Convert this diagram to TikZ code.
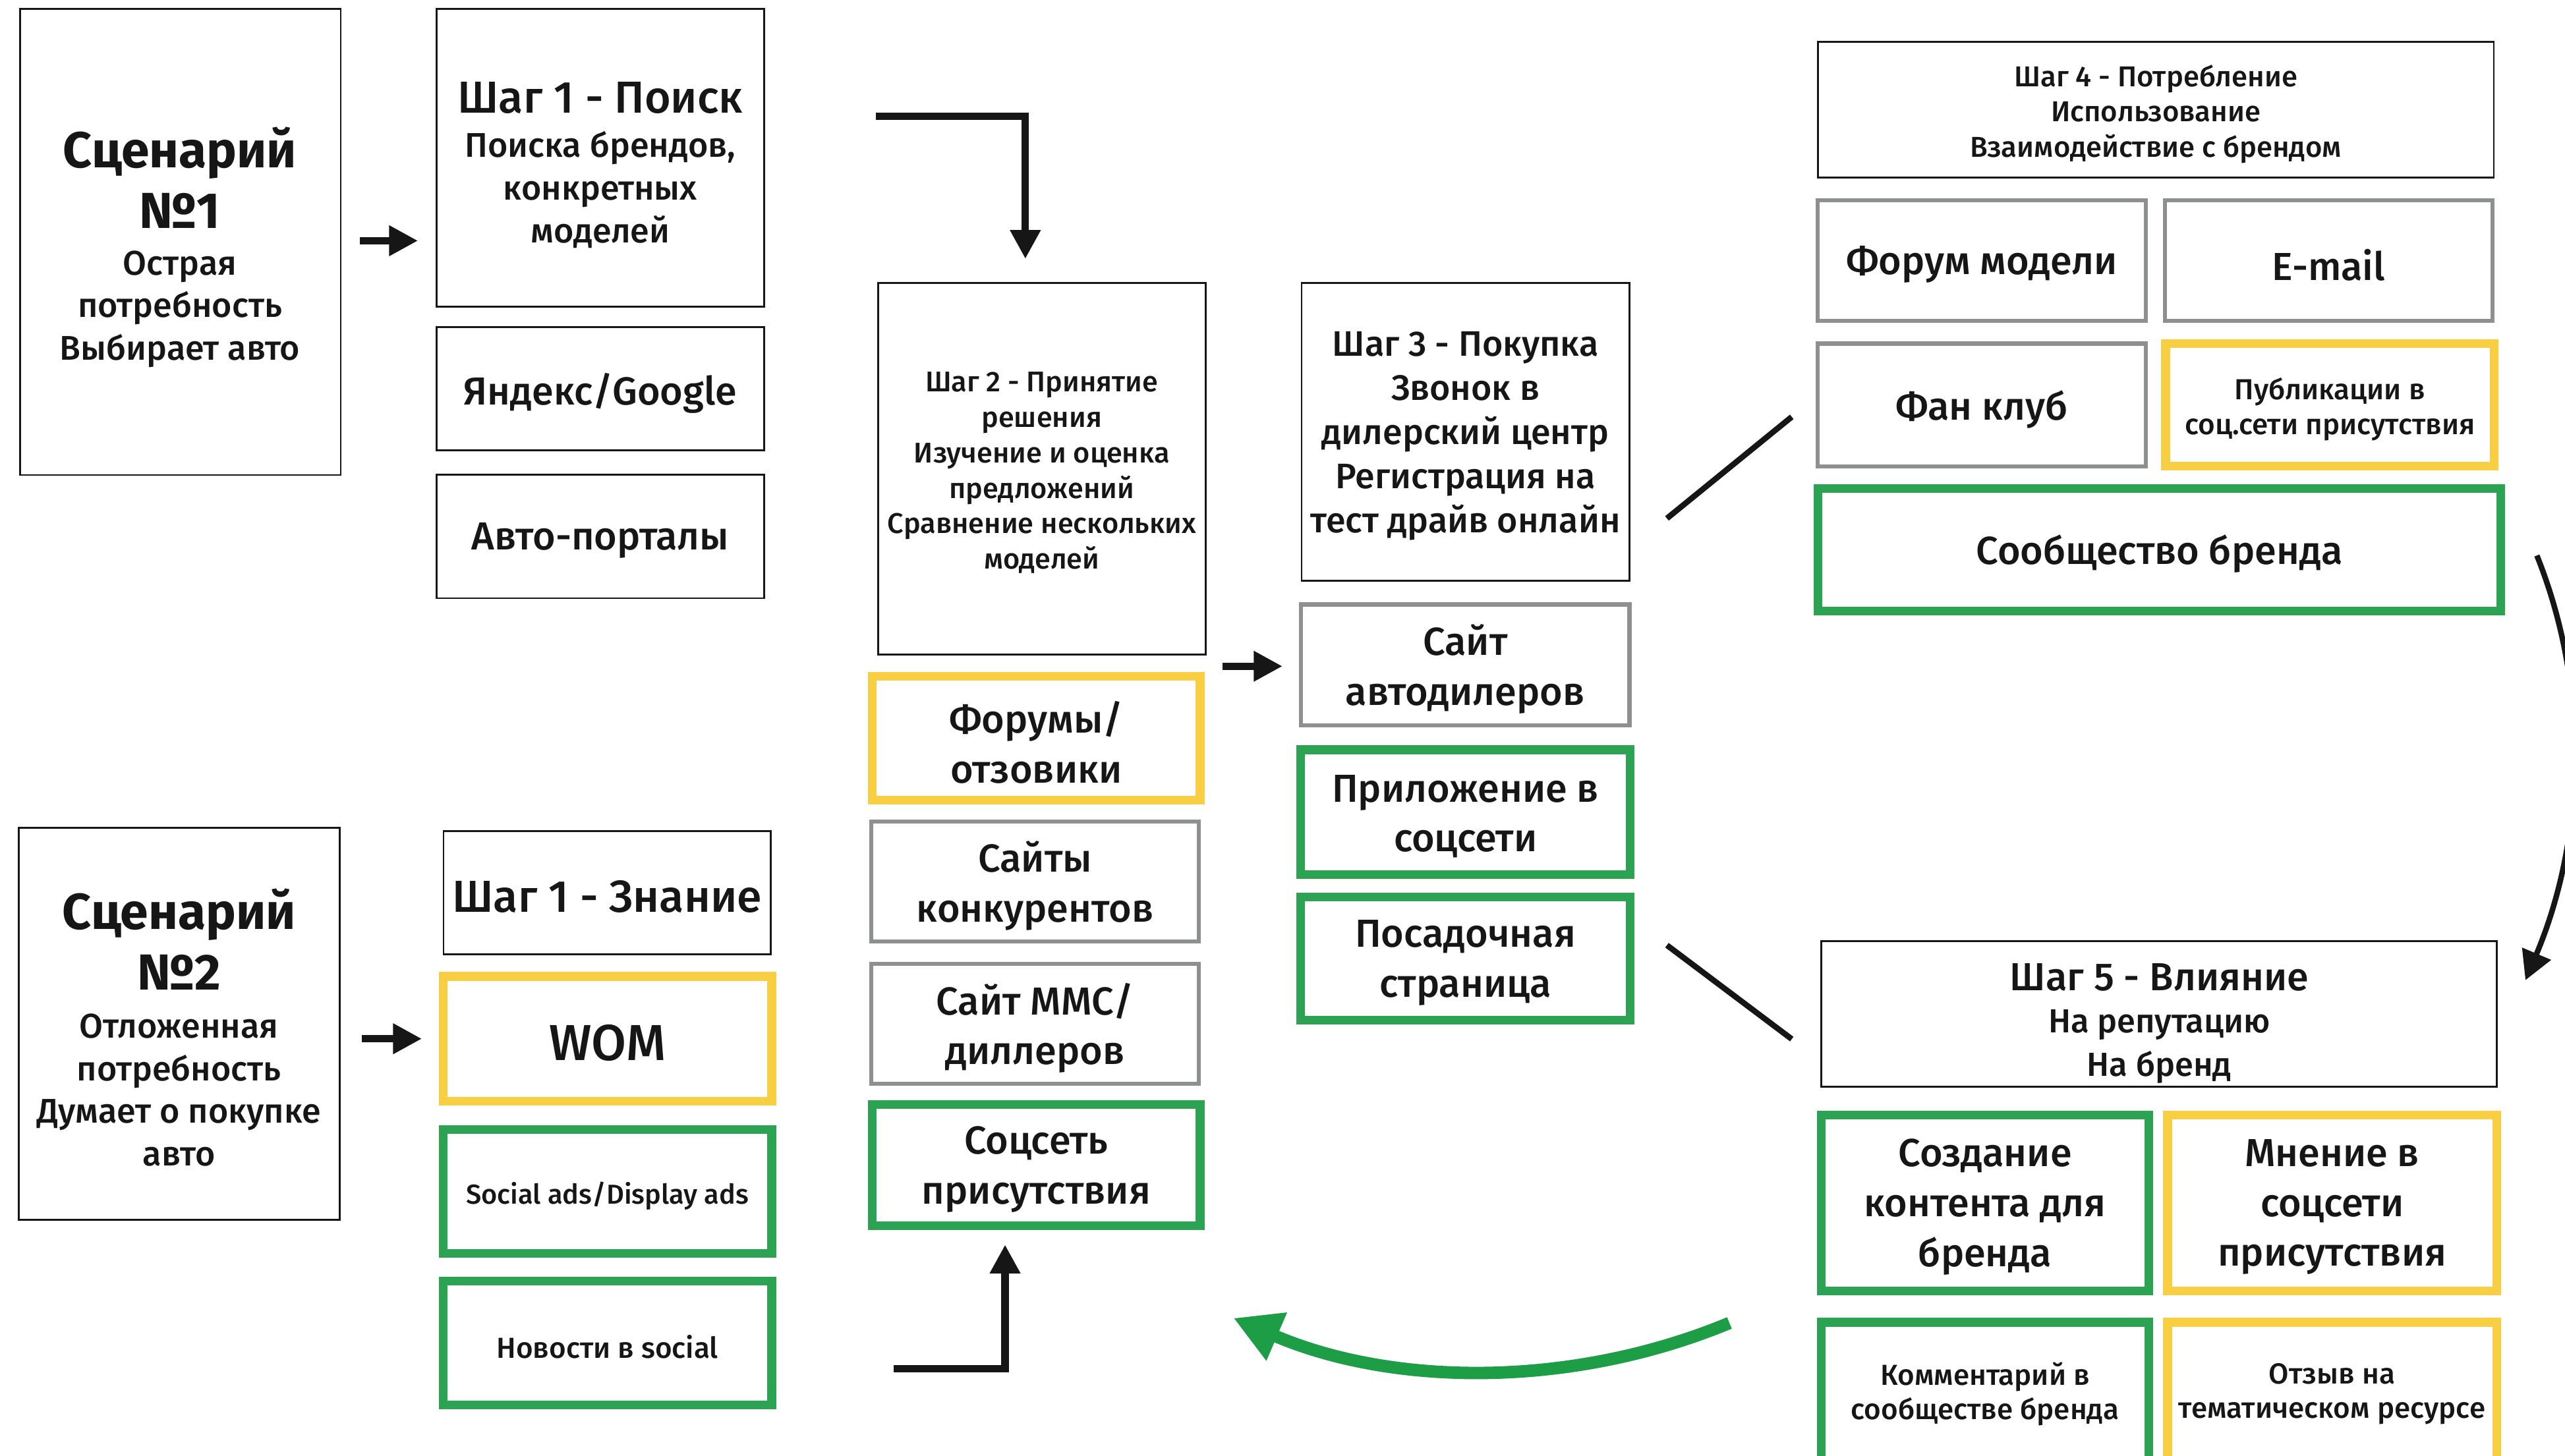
\documentclass[tikz,border=0pt]{standalone}
\usepackage{fontspec}
\setmainfont{Fira Sans}[UprightFont=* Medium, BoldFont=* Bold]
\usetikzlibrary{arrows.meta}
\definecolor{cyel}{RGB}{248,206,66}
\definecolor{cgrn}{RGB}{43,163,82}
\definecolor{agrn}{RGB}{29,157,69}
\definecolor{cgry}{RGB}{140,145,143}
\definecolor{ink}{RGB}{22,22,22}
\newcommand\mkframe[7]{\node[#2,minimum width={(#6-#4-2*#3)*0.025cm},minimum height={(#7-#5-2*#3)*0.025cm}] (#1) at ({(#4+#6)/2},{(#5+#7)/2}) {};}
\newcommand\mkbox[8]{\mkframe{#1}{#2}{#3}{#4}{#5}{#6}{#7}%
  \node[#2,draw=none,minimum width=0pt,minimum height=0pt] (#1t) at ([yshift=-0.065cm]#1.center) {#8};}
\tikzset{
  base/.style={inner sep=0pt, outer sep=0pt, align=center, text=ink},
  bthin/.style={base, draw=ink, line width=0.8pt},
  bgry/.style={base, draw=cgry, line width=1.8pt},
  byel/.style={base, draw=cyel, line width=3.75pt},
  bgrn/.style={base, draw=cgrn, line width=3.75pt},
  txt/.style={inner sep=0pt, align=center, text=ink},
  fTitle/.style={font=\bfseries\fontsize{22}{26.3}\selectfont},
  fBody/.style={font=\fontsize{14.9}{18.5}\selectfont},
  fStepT/.style={font=\fontsize{19.5}{22}\selectfont},
  fItem/.style={font=\fontsize{17}{21.7}\selectfont},
  fSmallTwo/.style={font=\fontsize{12.4}{15.4}\selectfont},
  fStepThree/.style={font=\fontsize{15.4}{19.2}\selectfont},
  fSmallFour/.style={font=\fontsize{12.5}{15.3}\selectfont},
  fSmall/.style={font=\fontsize{12.6}{15}\selectfont},
  fAds/.style={font=\fontsize{11.9}{15}\selectfont},
  fFiveT/.style={font=\fontsize{17}{20}\selectfont},
  fFiveB/.style={font=\fontsize{14.5}{18.7}\selectfont},
  fWom/.style={font=\fontsize{22}{24}\selectfont},
  arr/.style={draw=ink, line width=3.2pt, -{Triangle[length=0.44cm,width=0.44cm]}},
  diag/.style={draw=ink, line width=2.5pt},
  carr/.style={draw=ink, line width=2.4pt, -{Triangle[length=0.44cm,width=0.46cm]}},
  garr/.style={draw=agrn, line width=5.4pt, -{Triangle[length=0.72cm,width=0.75cm]}}
}
\begin{document}
\begin{tikzpicture}[x=0.025cm,y=-0.025cm]
\useasboundingbox (0,0) rectangle (1568,890);
\fill[white] (0,0) rectangle (1568,890);
\clip (0,0) rectangle (1568,890);
% Scenario 1
\mkframe{sc1}{bthin}{0.5}{11.7}{4.9}{208.8}{291}
\node[txt,fTitle] (sc1t) at (110,108.5) {Сценарий\\№1};
\node[txt,fBody] (sc1b) at (110,189) {Острая\\потребность\\Выбирает авто};
% Step 1 search
\mkframe{s1}{bthin}{0.5}{266.3}{4.9}{467.7}{188}
\node[txt,fStepT] (s1t) at (367,60) {Шаг 1 - Поиск};
\node[txt,fBody] (s1b) at (367,116) {Поиска брендов,\\конкретных\\моделей};
\mkbox{ya}{bthin,fItem}{0.5}{266.3}{199.5}{467.7}{275.9}{Яндекс/Google}
\mkbox{ap}{bthin,fItem}{0.5}{266.3}{289.9}{467.7}{366.3}{Авто-порталы}
% Step 2
\mkbox{s2}{bthin,fSmallTwo}{0.5}{536.2}{172.4}{737.5}{400.6}{Шаг 2 - Принятие\\решения\\Изучение и оценка\\предложений\\Сравнение нескольких\\моделей}
\mkbox{fo}{byel,fItem}{2.65}{530.6}{410.8}{736.3}{492.1}{Форумы/\\отзовики}
\mkbox{sk}{bgry,fItem}{1.25}{531.4}{501.2}{734.1}{577}{Сайты\\конкурентов}
\mkbox{mmc}{bgry,fItem}{1.25}{531.4}{588.1}{734.1}{663.9}{Сайт ММС/\\диллеров}
\mkbox{sp}{bgrn,fItem}{2.65}{530.6}{672.7}{736.3}{752.3}{Соцсеть\\присутствия}
% Step 3
\mkbox{s3}{bthin,fStepThree}{0.5}{795.2}{172.4}{996.5}{355.6}{Шаг 3 - Покупка\\Звонок в\\дилерский центр\\Регистрация на\\тест драйв онлайн}
\mkbox{sa}{bgry,fItem}{1.25}{794.1}{368.4}{997.3}{444.7}{Сайт\\автодилеров}
\mkbox{pr}{bgrn,fItem}{2.65}{792.6}{455.8}{999.1}{537.5}{Приложение в\\соцсети}
\mkbox{ps}{bgrn,fItem}{2.65}{792.6}{545.8}{999.1}{626.6}{Посадочная\\страница}
% Step 4
\mkbox{s4}{bthin,fSmallFour}{0.5}{1110.8}{25.2}{1525}{109.2}{Шаг 4 - Потребление\\Использование\\Взаимодействие с брендом}
\mkbox{fm}{bgry,fItem}{1.25}{1109.9}{121.3}{1313}{197.3}{Форум модели}
\mkbox{em}{bgry,fItem}{1.25}{1322.2}{121.3}{1524.9}{197.3}{E-mail}
\mkbox{fk}{bgry,fItem}{1.25}{1109.9}{208.9}{1313}{286.5}{Фан клуб}
\mkbox{pub}{byel,fSmall}{2.65}{1321.2}{207.6}{1527.4}{287.8}{Публикации в\\соц.сети присутствия}
\mkbox{sb}{bgrn,fItem}{2.65}{1108.7}{296}{1531.3}{376.4}{Сообщество бренда}
% Step 5
\mkframe{s5}{bthin}{0.5}{1113}{575.1}{1526.9}{665.1}
\node[txt,fFiveT] (s5t) at (1320,597.5) {Шаг 5 - Влияние};
\node[txt,fFiveB] (s5b) at (1320,640) {На репутацию\\На бренд};
\mkbox{cr}{bgrn,fItem}{2.65}{1110.6}{679.1}{1316.4}{791.9}{Создание\\контента для\\бренда}
\mkbox{mn}{byel,fItem}{2.65}{1322.4}{679.1}{1528.9}{791.9}{Мнение в\\соцсети\\присутствия}
\mkframe{km}{bgrn}{2.65}{1110.6}{805.9}{1316.4}{910}
\node[txt,fSmall] (kmt) at (1213.5,852.5) {Комментарий в\\сообществе бренда};
\mkframe{ot}{byel}{2.65}{1322.4}{805.9}{1528.9}{910}
\node[txt,fSmall] (ott) at (1425.6,852.5) {Отзыв на\\тематическом ресурсе};
% Scenario 2
\mkframe{sc2}{bthin}{0.5}{11}{505.6}{208.1}{746.4}
\node[txt,fTitle] (sc2t) at (109.5,574.5) {Сценарий\\№2};
\node[txt,fBody] (sc2b) at (109.5,666.5) {Отложенная\\потребность\\Думает о покупке\\авто};
\mkbox{zn}{bthin,fStepT}{0.5}{270.6}{507.6}{471.7}{584.1}{Шаг 1 - Знание}
\mkbox{wom}{byel,fWom}{2.65}{268.3}{594.4}{474.4}{675.9}{WOM}
\mkbox{sad}{bgrn,fAds}{2.65}{268.3}{688}{474.4}{769.2}{Social ads/Display ads}
\mkbox{nws}{bgrn,fSmall}{2.65}{268.3}{780.6}{474.4}{861.6}{Новости в social}
% connectors
\coordinate (a1s) at (219.8,147.2); \coordinate (a1e) at (255.5,147.2);
\draw[arr] (a1s) -- (a1e);
\coordinate (a2s) at (221.2,635.2); \coordinate (a2e) at (257.9,635.2);
\draw[arr] (a2s) -- (a2e);
\coordinate (ets) at (535.5,71.2); \coordinate (ete) at (626.8,158.3);
\draw[arr] (ets) -| (ete);
\coordinate (ebs) at (546.3,836.9); \coordinate (ebe) at (614.4,761.1);
\draw[arr] (ebs) -| (ebe);
\coordinate (ams) at (747.4,407.4); \coordinate (ame) at (784,407.4);
\draw[arr] (ams) -- (ame);
\coordinate (d1s) at (1019,317); \coordinate (d1e) at (1095.3,254.9);
\draw[diag] (d1s) -- (d1e);
\coordinate (d2s) at (1019,578); \coordinate (d2e) at (1095.3,635.4);
\draw[diag] (d2s) -- (d2e);
\coordinate (crs) at (1550.8,339.7); \coordinate (cre) at (1543.8,599.4);
\draw[carr] (crs) .. controls (1584.5,423.7) and (1579.2,515.6) .. (cre);
\coordinate (gs) at (1057.2,809); \coordinate (ge) at (754,806);
\draw[garr] (gs) .. controls (959.8,849.4) and (850.8,847.5) .. (ge);
\end{tikzpicture}
\end{document}
